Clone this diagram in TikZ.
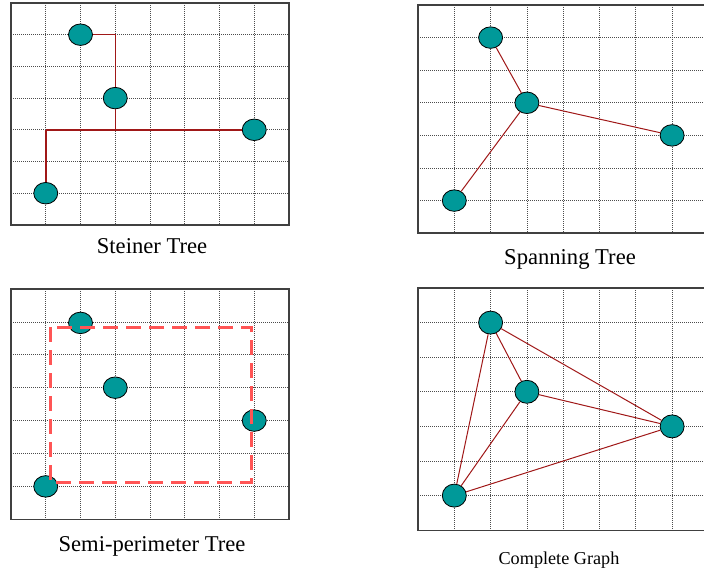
\documentclass[tikz,border=0pt]{standalone}
\usepackage{fontspec}
\setmainfont{Liberation Serif}
\usetikzlibrary{shapes.geometric}
\definecolor{tealfill}{HTML}{009999}
\definecolor{edgered}{HTML}{A01818}
\definecolor{dashred}{HTML}{FF5555}
\definecolor{framegray}{HTML}{404040}
\tikzset{
  pin/.style={ellipse, draw=black, line width=0.8pt, fill=tealfill, minimum width=24pt, minimum height=21.5pt, inner sep=0pt},
  gridline/.style={line width=0.7pt, draw=black!70, dash pattern=on 1pt off 1pt},
  frameline/.style={draw=framegray, line width=1.4pt},
  wire/.style={draw=edgered, line width=1pt},
  boundbox/.style={draw=dashred, line width=3pt, dash pattern=on 15pt off 8pt},
  caption/.style={anchor=base, font=\fontsize{22.6}{26}\selectfont, inner sep=0pt},
  smallcaption/.style={anchor=base, font=\fontsize{18.2}{22}\selectfont, inner sep=0pt},
}
\newcommand\gridpanel[4]{%
  \foreach \i in {1,...,7} { \draw[gridline] ({#1+\i*#3},#2) -- ({#1+\i*#3},{#2+7*#4}); }
  \foreach \j in {1,...,6} { \draw[gridline] (#1,{#2+\j*#4}) -- ({#1+8*#3},{#2+\j*#4}); }
  \draw[frameline] (#1,#2) rectangle ({#1+8*#3},{#2+7*#4});
}
\begin{document}
\begin{tikzpicture}[x=1pt,y=-1pt]
\useasboundingbox (0,0) rectangle (704,572);
\clip (0,0) rectangle (704,572);
\fill[white] (0,0) rectangle (704,572);

% ---- Panel 1: Steiner Tree
\gridpanel{11}{3}{34.75}{31.7}
\node[pin] (a1) at (80.5,34.7) {};
\node[pin] (b1) at (115.25,98.1) {};
\node[pin] (c1) at (254.25,129.8) {};
\node[pin] (d1) at (45.75,193.2) {};
\coordinate (sa) at (115.25,34.7);
\coordinate (sb) at (115.25,129.8);
\coordinate (sc) at (45.75,129.8);
\draw[wire] (a1) -- (sa) -- (b1);
\draw[wire] (b1) -- (sb);
\draw[wire, line width=1.5pt] (sc) -- (c1);
\draw[wire, line width=1.5pt] (sc) -- (d1);
\node[caption] (t1) at (152,253) {Steiner Tree};

% ---- Panel 2: Spanning Tree
\gridpanel{418}{5}{36.3}{32.6}
\node[pin] (a2) at (490.6,37.6) {};
\node[pin] (b2) at (526.9,102.8) {};
\node[pin] (c2) at (672.1,135.4) {};
\node[pin] (d2) at (454.3,200.6) {};
\draw[wire] (a2) -- (b2);
\draw[wire] (b2) -- (c2);
\draw[wire] (b2) -- (d2);
\node[caption] (t2) at (570,264) {Spanning Tree};

% ---- Panel 3: Semi-perimeter Tree
\gridpanel{11}{289}{34.75}{32.9}
\node[pin] (a3) at (80.5,322.9) {};
\node[pin] (b3) at (115.25,387.7) {};
\node[pin] (c3) at (254.25,420.6) {};
\node[pin] (d3) at (45.75,486.4) {};
\draw[boundbox] (50,327) rectangle (251,482);
\node[caption] (t3) at (152,551) {Semi-perimeter Tree};

% ---- Panel 4: Complete Graph
\gridpanel{418}{288}{36.3}{34.6}
\node[pin, minimum height=23pt] (a4) at (490.6,322.6) {};
\node[pin, minimum height=23pt] (b4) at (526.9,391.8) {};
\node[pin, minimum height=23pt] (c4) at (672.1,426.4) {};
\node[pin, minimum height=23pt] (d4) at (454.3,495.6) {};
\draw[wire] (a4) -- (b4);
\draw[wire] (a4) -- (c4);
\draw[wire] (a4) -- (d4);
\draw[wire] (b4) -- (c4);
\draw[wire] (b4) -- (d4);
\draw[wire] (c4) -- (d4);
\node[smallcaption] (t4) at (559,564) {Complete Graph};
\end{tikzpicture}
\end{document}
